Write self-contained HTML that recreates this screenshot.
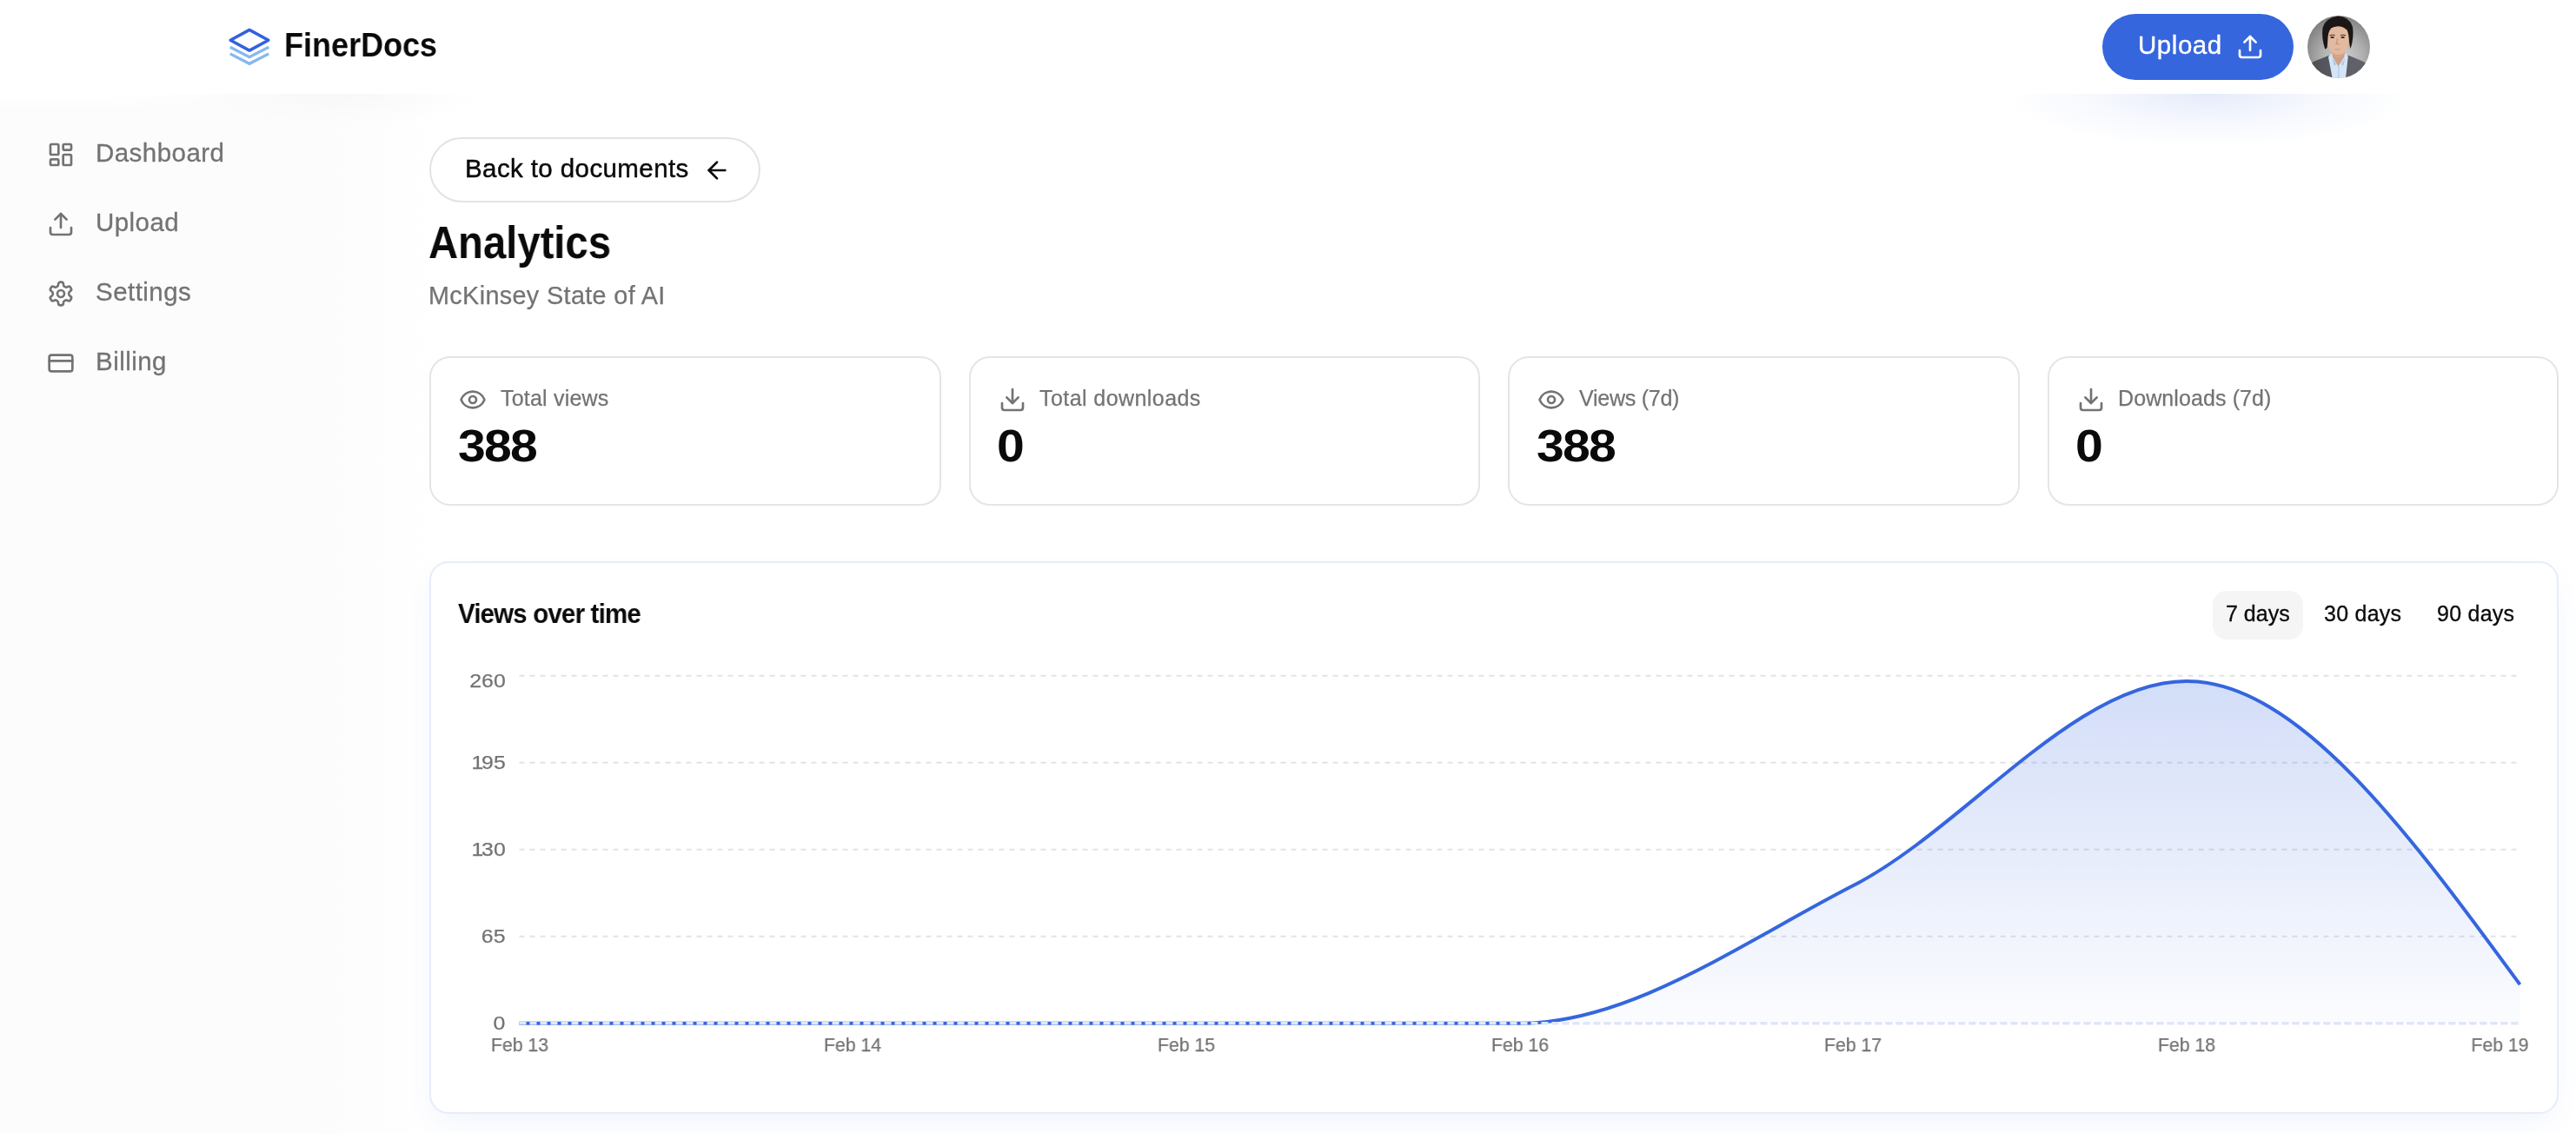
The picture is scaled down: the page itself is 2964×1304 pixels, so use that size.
<!DOCTYPE html>
<html><head><meta charset="utf-8"><title>FinerDocs Analytics</title><style>
*{box-sizing:border-box;margin:0;padding:0}
html,body{width:2964px;height:1304px;overflow:hidden;background:#fff;font-family:"Liberation Sans",sans-serif;}
.t{position:absolute;white-space:pre;line-height:1;will-change:transform}
.i{position:absolute;display:block;overflow:visible}
.sidebg{position:absolute;left:0;top:0;width:520px;height:1304px;background:linear-gradient(90deg,#fcfcfc 355px,#fff 515px)}
.hdr{position:absolute;left:0;top:0;width:2964px;height:108px;background:#fff}
.hdrsoft{position:absolute;left:0;top:108px;width:300px;height:22px;background:linear-gradient(180deg,#fff,rgba(255,255,255,0));-webkit-mask-image:linear-gradient(90deg,#000 0,#000 120px,transparent 290px);mask-image:linear-gradient(90deg,#000 0,#000 120px,transparent 290px)}
.hdrglow{position:absolute;left:2320px;top:108px;width:470px;height:62px;background:radial-gradient(ellipse 50% 100% at 47% 0,rgba(53,102,222,0.13),rgba(53,102,222,0.045) 55%,rgba(53,102,222,0) 100%)}
.hdrglow2{position:absolute;left:240px;top:108px;width:330px;height:36px;background:radial-gradient(ellipse 50% 100% at 50% 0,rgba(0,0,0,0.02),rgba(0,0,0,0) 100%)}
.upbtn{position:absolute;left:2419px;top:16px;width:220px;height:76px;border-radius:38px;background:#3566de}
.backbtn{position:absolute;left:494px;top:158px;width:381px;height:75px;border-radius:38px;border:2px solid #e3e3e3;background:#fff}
.card{position:absolute;top:410px;width:588.5px;height:171.5px;border-radius:24px;border:2px solid #e5e5e5;background:#fff}
.chart{position:absolute;left:494px;top:646px;width:2449.5px;height:635.5px;border-radius:22px;border:2px solid #e6ecfb;background:#fff;box-shadow:0 14px 34px -6px rgba(53,102,222,0.07)}
.pill{position:absolute;left:2546px;top:680px;width:104px;height:55.5px;border-radius:16px;background:#f5f5f5}
</style></head><body>
<div class="sidebg"></div>
<div class="hdrglow"></div><div class="hdrglow2"></div>
<div class="hdr"></div><div class="hdrsoft"></div>
<svg class="i" style="left:0;top:0" width="400" height="108" viewBox="0 0 400 108" fill="none">
<path d="M264.8 54.2 L287 65.65 L309.2 54.2" stroke="#86b8ed" stroke-width="3.3" stroke-linecap="butt"/>
<path d="M264.8 61.85 L287 73.3 L309.2 61.85" stroke="#86b8ed" stroke-width="3.3" stroke-linecap="butt"/>
<path d="M287 34.4 L308.85 46.25 L287 58.1 L265.15 46.25 Z" stroke="#3262dc" stroke-width="3.5" stroke-linejoin="round"/>
</svg>
<div class="t" style="top:33.01px;font-size:38.5px;color:#0a0a0a;font-weight:700;left:327.00px;transform:scaleX(0.935);transform-origin:0 0;">FinerDocs</div>
<div class="upbtn"></div>
<div class="t" style="top:37.13px;font-size:29.5px;color:#fff;letter-spacing:0.55px;left:2460.30px;-webkit-text-stroke:0.35px #fff;">Upload</div>
<svg class="i" style="left:2573px;top:38px" width="32" height="32" viewBox="0 0 24 24" fill="none" stroke="#fff" stroke-width="2" stroke-linecap="round" stroke-linejoin="round"><path d="M21 15v4a2 2 0 0 1-2 2H5a2 2 0 0 1-2-2v-4"/><polyline points="17 8 12 3 7 8"/><line x1="12" x2="12" y1="3" y2="15"/></svg>
<svg class="i" style="left:2655px;top:18px" width="72" height="72" viewBox="0 0 72 72">
<defs><clipPath id="av"><circle cx="36" cy="36" r="36"/></clipPath>
<radialGradient id="avbg" cx="0.56" cy="0.66" r="0.72"><stop offset="0" stop-color="#cfcfcf"/><stop offset="0.45" stop-color="#b0b0b0"/><stop offset="0.8" stop-color="#8c8c8c"/><stop offset="1" stop-color="#757575"/></radialGradient>
<linearGradient id="suit" x1="0" y1="0" x2="1" y2="0"><stop offset="0" stop-color="#494b51"/><stop offset="0.5" stop-color="#5c5e66"/><stop offset="1" stop-color="#62646b"/></linearGradient>
<filter id="sf" x="-10%" y="-10%" width="120%" height="120%"><feGaussianBlur stdDeviation="0.55"/></filter></defs>
<g clip-path="url(#av)">
<rect width="72" height="72" fill="url(#avbg)"/>
<g filter="url(#sf)">
<path d="M-3 76 L-3 60 L7.5 52.8 L23 46.6 L27 45.5 L36 58 L45 45.5 L48 46 L64 52.8 L75 60 L75 76Z" fill="url(#suit)"/>
<path d="M24 47.5 L27.5 43.5 L36 50 L44.5 43.5 L46.8 47 L43.5 76 L29.5 76 Z" fill="#d3e5f6"/>
<path d="M28.5 49 L33 55.5 L31 58 Z M43.5 49 L39 55.5 L41 58 Z" fill="#a9c6e6"/>
<path d="M35.6 58 L36.4 58 L36.2 76 L35.2 76Z" fill="#9dbfe6"/>
<path d="M28.8 38 L28.6 47 L35.5 58.5 L42.6 47 L42.8 38Z" fill="#cfa088"/>
<path d="M47 25.5 Q50.2 24.5 50 29 Q49.6 34.5 46.8 36Z" fill="#d7a78d"/>
<path d="M22.6 22 Q22.4 34 26.5 41 Q30.5 47.6 35.4 47.8 Q40 47.6 44 41 Q48 34 47.8 22 Q47 10 35 10 Q23.5 10 22.6 22Z" fill="#e3b99f"/>
<path d="M26.5 41 Q30.5 47.6 35.4 47.8 Q40 47.6 44 41 Q40 45 35.4 45 Q30.5 45 26.5 41Z" fill="#d1a58c"/>
<path d="M20.2 38.6 Q16 26 17.5 14 Q21 2.5 35 0.6 Q48.5 1.5 52 13 Q53.8 25 49.6 38 Q48.6 35 48 30 Q47.6 21 45.5 16.5 Q41 12.2 35 12.2 Q30 12.6 27.6 14.2 Q24.4 17 23.6 24 Q23.2 32 22.6 36.5 Q21.6 38.5 20.2 38.6Z" fill="#1b1715"/>
<path d="M25.5 22.8 Q28.5 21.6 31.6 22.6 M38 22.6 Q41 21.6 44 22.8" stroke="#3a2a24" stroke-width="1" fill="none"/>
<ellipse cx="28.6" cy="25" rx="2.3" ry="0.9" fill="#2b1e1a"/><ellipse cx="40.6" cy="25" rx="2.3" ry="0.9" fill="#2b1e1a"/>
<path d="M34.6 26 L33.2 32.4 L36.6 32.8" stroke="#c39479" stroke-width="1.1" fill="none"/>
<path d="M30 38 Q34.5 39.6 39 37.8 Q34.5 41 30 38Z" fill="#c5817c"/>
</g></g></svg>
<svg class="i" style="left:54px;top:162px" width="32" height="32" viewBox="0 0 24 24" fill="none" stroke="#737373" stroke-width="2" stroke-linecap="round" stroke-linejoin="round"><rect width="7" height="9" x="3" y="3" rx="1"/><rect width="7" height="5" x="14" y="3" rx="1"/><rect width="7" height="9" x="14" y="12" rx="1"/><rect width="7" height="5" x="3" y="16" rx="1"/></svg>
<div class="t" style="top:161.23px;font-size:29.5px;color:#737373;letter-spacing:0.45px;left:110.00px;-webkit-text-stroke:0.3px #737373;">Dashboard</div>
<svg class="i" style="left:54px;top:242px" width="32" height="32" viewBox="0 0 24 24" fill="none" stroke="#737373" stroke-width="2" stroke-linecap="round" stroke-linejoin="round"><path d="M21 15v4a2 2 0 0 1-2 2H5a2 2 0 0 1-2-2v-4"/><polyline points="17 8 12 3 7 8"/><line x1="12" x2="12" y1="3" y2="15"/></svg>
<div class="t" style="top:241.23px;font-size:29.5px;color:#737373;letter-spacing:0.45px;left:110.00px;-webkit-text-stroke:0.3px #737373;">Upload</div>
<svg class="i" style="left:54px;top:322px" width="32" height="32" viewBox="0 0 24 24" fill="none" stroke="#737373" stroke-width="2" stroke-linecap="round" stroke-linejoin="round"><path d="M12.22 2h-.44a2 2 0 0 0-2 2v.18a2 2 0 0 1-1 1.73l-.43.25a2 2 0 0 1-2 0l-.15-.08a2 2 0 0 0-2.73.73l-.22.38a2 2 0 0 0 .73 2.73l.15.1a2 2 0 0 1 1 1.72v.51a2 2 0 0 1-1 1.74l-.15.09a2 2 0 0 0-.73 2.73l.22.38a2 2 0 0 0 2.73.73l.15-.08a2 2 0 0 1 2 0l.43.25a2 2 0 0 1 1 1.73V20a2 2 0 0 0 2 2h.44a2 2 0 0 0 2-2v-.18a2 2 0 0 1 1-1.73l.43-.25a2 2 0 0 1 2 0l.15.08a2 2 0 0 0 2.73-.73l.22-.39a2 2 0 0 0-.73-2.73l-.15-.08a2 2 0 0 1-1-1.74v-.5a2 2 0 0 1 1-1.74l.15-.09a2 2 0 0 0 .73-2.73l-.22-.38a2 2 0 0 0-2.73-.73l-.15.08a2 2 0 0 1-2 0l-.43-.25a2 2 0 0 1-1-1.73V4a2 2 0 0 0-2-2z"/><circle cx="12" cy="12" r="3"/></svg>
<div class="t" style="top:321.23px;font-size:29.5px;color:#737373;letter-spacing:0.45px;left:110.00px;-webkit-text-stroke:0.3px #737373;">Settings</div>
<svg class="i" style="left:54px;top:402px" width="32" height="32" viewBox="0 0 24 24" fill="none" stroke="#737373" stroke-width="2" stroke-linecap="round" stroke-linejoin="round"><rect width="20" height="14" x="2" y="5" rx="2"/><line x1="2" x2="22" y1="10" y2="10"/></svg>
<div class="t" style="top:401.23px;font-size:29.5px;color:#737373;letter-spacing:0.45px;left:110.00px;-webkit-text-stroke:0.3px #737373;">Billing</div>
<div class="backbtn"></div>
<div class="t" style="top:178.73px;font-size:29.5px;color:#0a0a0a;letter-spacing:0.4px;left:535.00px;-webkit-text-stroke:0.45px #0a0a0a;">Back to documents</div>
<svg class="i" style="left:809px;top:180px" width="32" height="32" viewBox="0 0 24 24" fill="none" stroke="#0a0a0a" stroke-width="2" stroke-linecap="round" stroke-linejoin="round"><path d="m12 19-7-7 7-7"/><path d="M19 12H5"/></svg>
<div class="t" style="top:253.83px;font-size:51px;color:#0a0a0a;font-weight:700;left:493.00px;transform:scaleX(0.926);transform-origin:0 0;">Analytics</div>
<div class="t" style="top:326.32px;font-size:28.8px;color:#737373;-webkit-text-stroke:0.25px #737373;letter-spacing:0.35px;left:492.80px;">McKinsey State of AI</div>
<div class="card" style="left:494px"></div>
<svg class="i" style="left:528px;top:444px" width="32" height="32" viewBox="0 0 24 24" fill="none" stroke="#737373" stroke-width="2" stroke-linecap="round" stroke-linejoin="round"><path d="M2.062 12.348a1 1 0 0 1 0-.696 10.75 10.75 0 0 1 19.876 0 1 1 0 0 1 0 .696 10.75 10.75 0 0 1-19.876 0"/><circle cx="12" cy="12" r="3"/></svg>
<div class="t" style="top:445.84px;font-size:25px;color:#737373;-webkit-text-stroke:0.25px #737373;letter-spacing:0.2px;left:575.50px;">Total views</div>
<div class="t" style="top:487.83px;font-size:51px;color:#0a0a0a;font-weight:700;letter-spacing:-1.6px;left:526.50px;transform:scaleX(1.12);transform-origin:0 0;">388</div>
<div class="card" style="left:1114.5px"></div>
<svg class="i" style="left:1148.5px;top:444px" width="32" height="32" viewBox="0 0 24 24" fill="none" stroke="#737373" stroke-width="2" stroke-linecap="round" stroke-linejoin="round"><path d="M21 15v4a2 2 0 0 1-2 2H5a2 2 0 0 1-2-2v-4"/><polyline points="7 10 12 15 17 10"/><line x1="12" x2="12" y1="15" y2="3"/></svg>
<div class="t" style="top:445.84px;font-size:25px;color:#737373;-webkit-text-stroke:0.25px #737373;letter-spacing:0.43px;left:1196.00px;">Total downloads</div>
<div class="t" style="top:487.83px;font-size:51px;color:#0a0a0a;font-weight:700;letter-spacing:-1.6px;left:1147.00px;transform:scaleX(1.12);transform-origin:0 0;">0</div>
<div class="card" style="left:1735px"></div>
<svg class="i" style="left:1769px;top:444px" width="32" height="32" viewBox="0 0 24 24" fill="none" stroke="#737373" stroke-width="2" stroke-linecap="round" stroke-linejoin="round"><path d="M2.062 12.348a1 1 0 0 1 0-.696 10.75 10.75 0 0 1 19.876 0 1 1 0 0 1 0 .696 10.75 10.75 0 0 1-19.876 0"/><circle cx="12" cy="12" r="3"/></svg>
<div class="t" style="top:445.84px;font-size:25px;color:#737373;-webkit-text-stroke:0.25px #737373;letter-spacing:-0.25px;left:1816.50px;">Views (7d)</div>
<div class="t" style="top:487.83px;font-size:51px;color:#0a0a0a;font-weight:700;letter-spacing:-1.6px;left:1767.50px;transform:scaleX(1.12);transform-origin:0 0;">388</div>
<div class="card" style="left:2355.5px"></div>
<svg class="i" style="left:2389.5px;top:444px" width="32" height="32" viewBox="0 0 24 24" fill="none" stroke="#737373" stroke-width="2" stroke-linecap="round" stroke-linejoin="round"><path d="M21 15v4a2 2 0 0 1-2 2H5a2 2 0 0 1-2-2v-4"/><polyline points="7 10 12 15 17 10"/><line x1="12" x2="12" y1="15" y2="3"/></svg>
<div class="t" style="top:445.84px;font-size:25px;color:#737373;-webkit-text-stroke:0.25px #737373;letter-spacing:0.1px;left:2437.00px;">Downloads (7d)</div>
<div class="t" style="top:487.83px;font-size:51px;color:#0a0a0a;font-weight:700;letter-spacing:-1.6px;left:2388.00px;transform:scaleX(1.12);transform-origin:0 0;">0</div>
<div class="chart"></div>
<div class="t" style="top:690.50px;font-size:31.3px;color:#0a0a0a;font-weight:700;letter-spacing:-0.85px;left:527.00px;transform:scaleX(0.94);transform-origin:0 0;">Views over time</div>
<div class="pill"></div>
<div class="t" style="top:693.64px;font-size:25px;color:#0a0a0a;left:2561.00px;-webkit-text-stroke:0.3px #0a0a0a;">7 days</div>
<div class="t" style="top:693.64px;font-size:25px;color:#0a0a0a;letter-spacing:0.25px;left:2674.00px;-webkit-text-stroke:0.3px #0a0a0a;">30 days</div>
<div class="t" style="top:693.64px;font-size:25px;color:#0a0a0a;letter-spacing:0.25px;left:2804.00px;-webkit-text-stroke:0.3px #0a0a0a;">90 days</div>
<svg class="i" style="left:0;top:0" width="2964" height="1304" viewBox="0 0 2964 1304">
<defs><linearGradient id="ag" x1="0" y1="777.8" x2="0" y2="1177.8" gradientUnits="userSpaceOnUse"><stop offset="0" stop-color="#3566de" stop-opacity="0.225"/><stop offset="1" stop-color="#3566de" stop-opacity="0.02"/></linearGradient></defs>
<g stroke="#e3e3e3" stroke-width="2" stroke-dasharray="6 6"><line x1="597.5" x2="2897.5" y1="1177.8" y2="1177.8"/><line x1="597.5" x2="2897.5" y1="1077.8" y2="1077.8"/><line x1="597.5" x2="2897.5" y1="977.8" y2="977.8"/><line x1="597.5" x2="2897.5" y1="877.8" y2="877.8"/><line x1="597.5" x2="2897.5" y1="777.8" y2="777.8"/></g>
<path d="M597.50,1177.80C725.39,1177.80,853.28,1177.80,981.17,1177.80C1109.06,1177.80,1236.95,1177.80,1364.84,1177.80C1492.73,1177.80,1620.62,1177.80,1748.51,1177.80C1876.40,1177.80,2004.29,1084.98,2132.18,1019.34C2260.07,953.70,2387.96,783.95,2515.85,783.95C2643.74,783.95,2771.63,958.57,2899.52,1133.18L2899.52,1177.8L597.50,1177.8Z" fill="url(#ag)"/>
<path d="M597.50,1177.80C725.39,1177.80,853.28,1177.80,981.17,1177.80C1109.06,1177.80,1236.95,1177.80,1364.84,1177.80C1492.73,1177.80,1620.62,1177.80,1748.51,1177.80C1876.40,1177.80,2004.29,1084.98,2132.18,1019.34C2260.07,953.70,2387.96,783.95,2515.85,783.95C2643.74,783.95,2771.63,958.57,2899.52,1133.18" fill="none" stroke="#3566de" stroke-width="4" stroke-linejoin="round"/>
<g stroke="#dee6f9" stroke-width="3.6" stroke-dasharray="8 4" stroke-dashoffset="0"><line x1="597.5" x2="2897.5" y1="1177.8" y2="1177.8"/></g>
</svg>
<div class="t" style="top:1166.88px;font-size:22px;color:#737373;-webkit-text-stroke:0.25px #737373;right:2382.40px;transform:scaleX(1.13);transform-origin:100% 0;">0</div>
<div class="t" style="top:1066.88px;font-size:22px;color:#737373;-webkit-text-stroke:0.25px #737373;right:2382.40px;transform:scaleX(1.13);transform-origin:100% 0;">65</div>
<div class="t" style="top:966.88px;font-size:22px;color:#737373;-webkit-text-stroke:0.25px #737373;right:2382.40px;transform:scaleX(1.13);transform-origin:100% 0;"><span style="margin-right:-2px">1</span>30</div>
<div class="t" style="top:866.88px;font-size:22px;color:#737373;-webkit-text-stroke:0.25px #737373;right:2382.40px;transform:scaleX(1.13);transform-origin:100% 0;"><span style="margin-right:-2px">1</span>95</div>
<div class="t" style="top:772.98px;font-size:22px;color:#737373;-webkit-text-stroke:0.25px #737373;right:2382.40px;transform:scaleX(1.13);transform-origin:100% 0;">260</div>
<div class="t" style="top:1191.88px;font-size:22px;color:#737373;-webkit-text-stroke:0.25px #737373;left:597.80px;transform:translateX(-50%) scaleX(0.965);">Feb 13</div>
<div class="t" style="top:1191.88px;font-size:22px;color:#737373;-webkit-text-stroke:0.25px #737373;left:981.47px;transform:translateX(-50%) scaleX(0.965);">Feb 14</div>
<div class="t" style="top:1191.88px;font-size:22px;color:#737373;-webkit-text-stroke:0.25px #737373;left:1365.14px;transform:translateX(-50%) scaleX(0.965);">Feb 15</div>
<div class="t" style="top:1191.88px;font-size:22px;color:#737373;-webkit-text-stroke:0.25px #737373;left:1748.81px;transform:translateX(-50%) scaleX(0.965);">Feb 16</div>
<div class="t" style="top:1191.88px;font-size:22px;color:#737373;-webkit-text-stroke:0.25px #737373;left:2132.48px;transform:translateX(-50%) scaleX(0.965);">Feb 17</div>
<div class="t" style="top:1191.88px;font-size:22px;color:#737373;-webkit-text-stroke:0.25px #737373;left:2516.15px;transform:translateX(-50%) scaleX(0.965);">Feb 18</div>
<div class="t" style="top:1191.88px;font-size:22px;color:#737373;-webkit-text-stroke:0.25px #737373;right:54.50px;transform:scaleX(0.965);transform-origin:100% 0;">Feb 19</div>
</body></html>
